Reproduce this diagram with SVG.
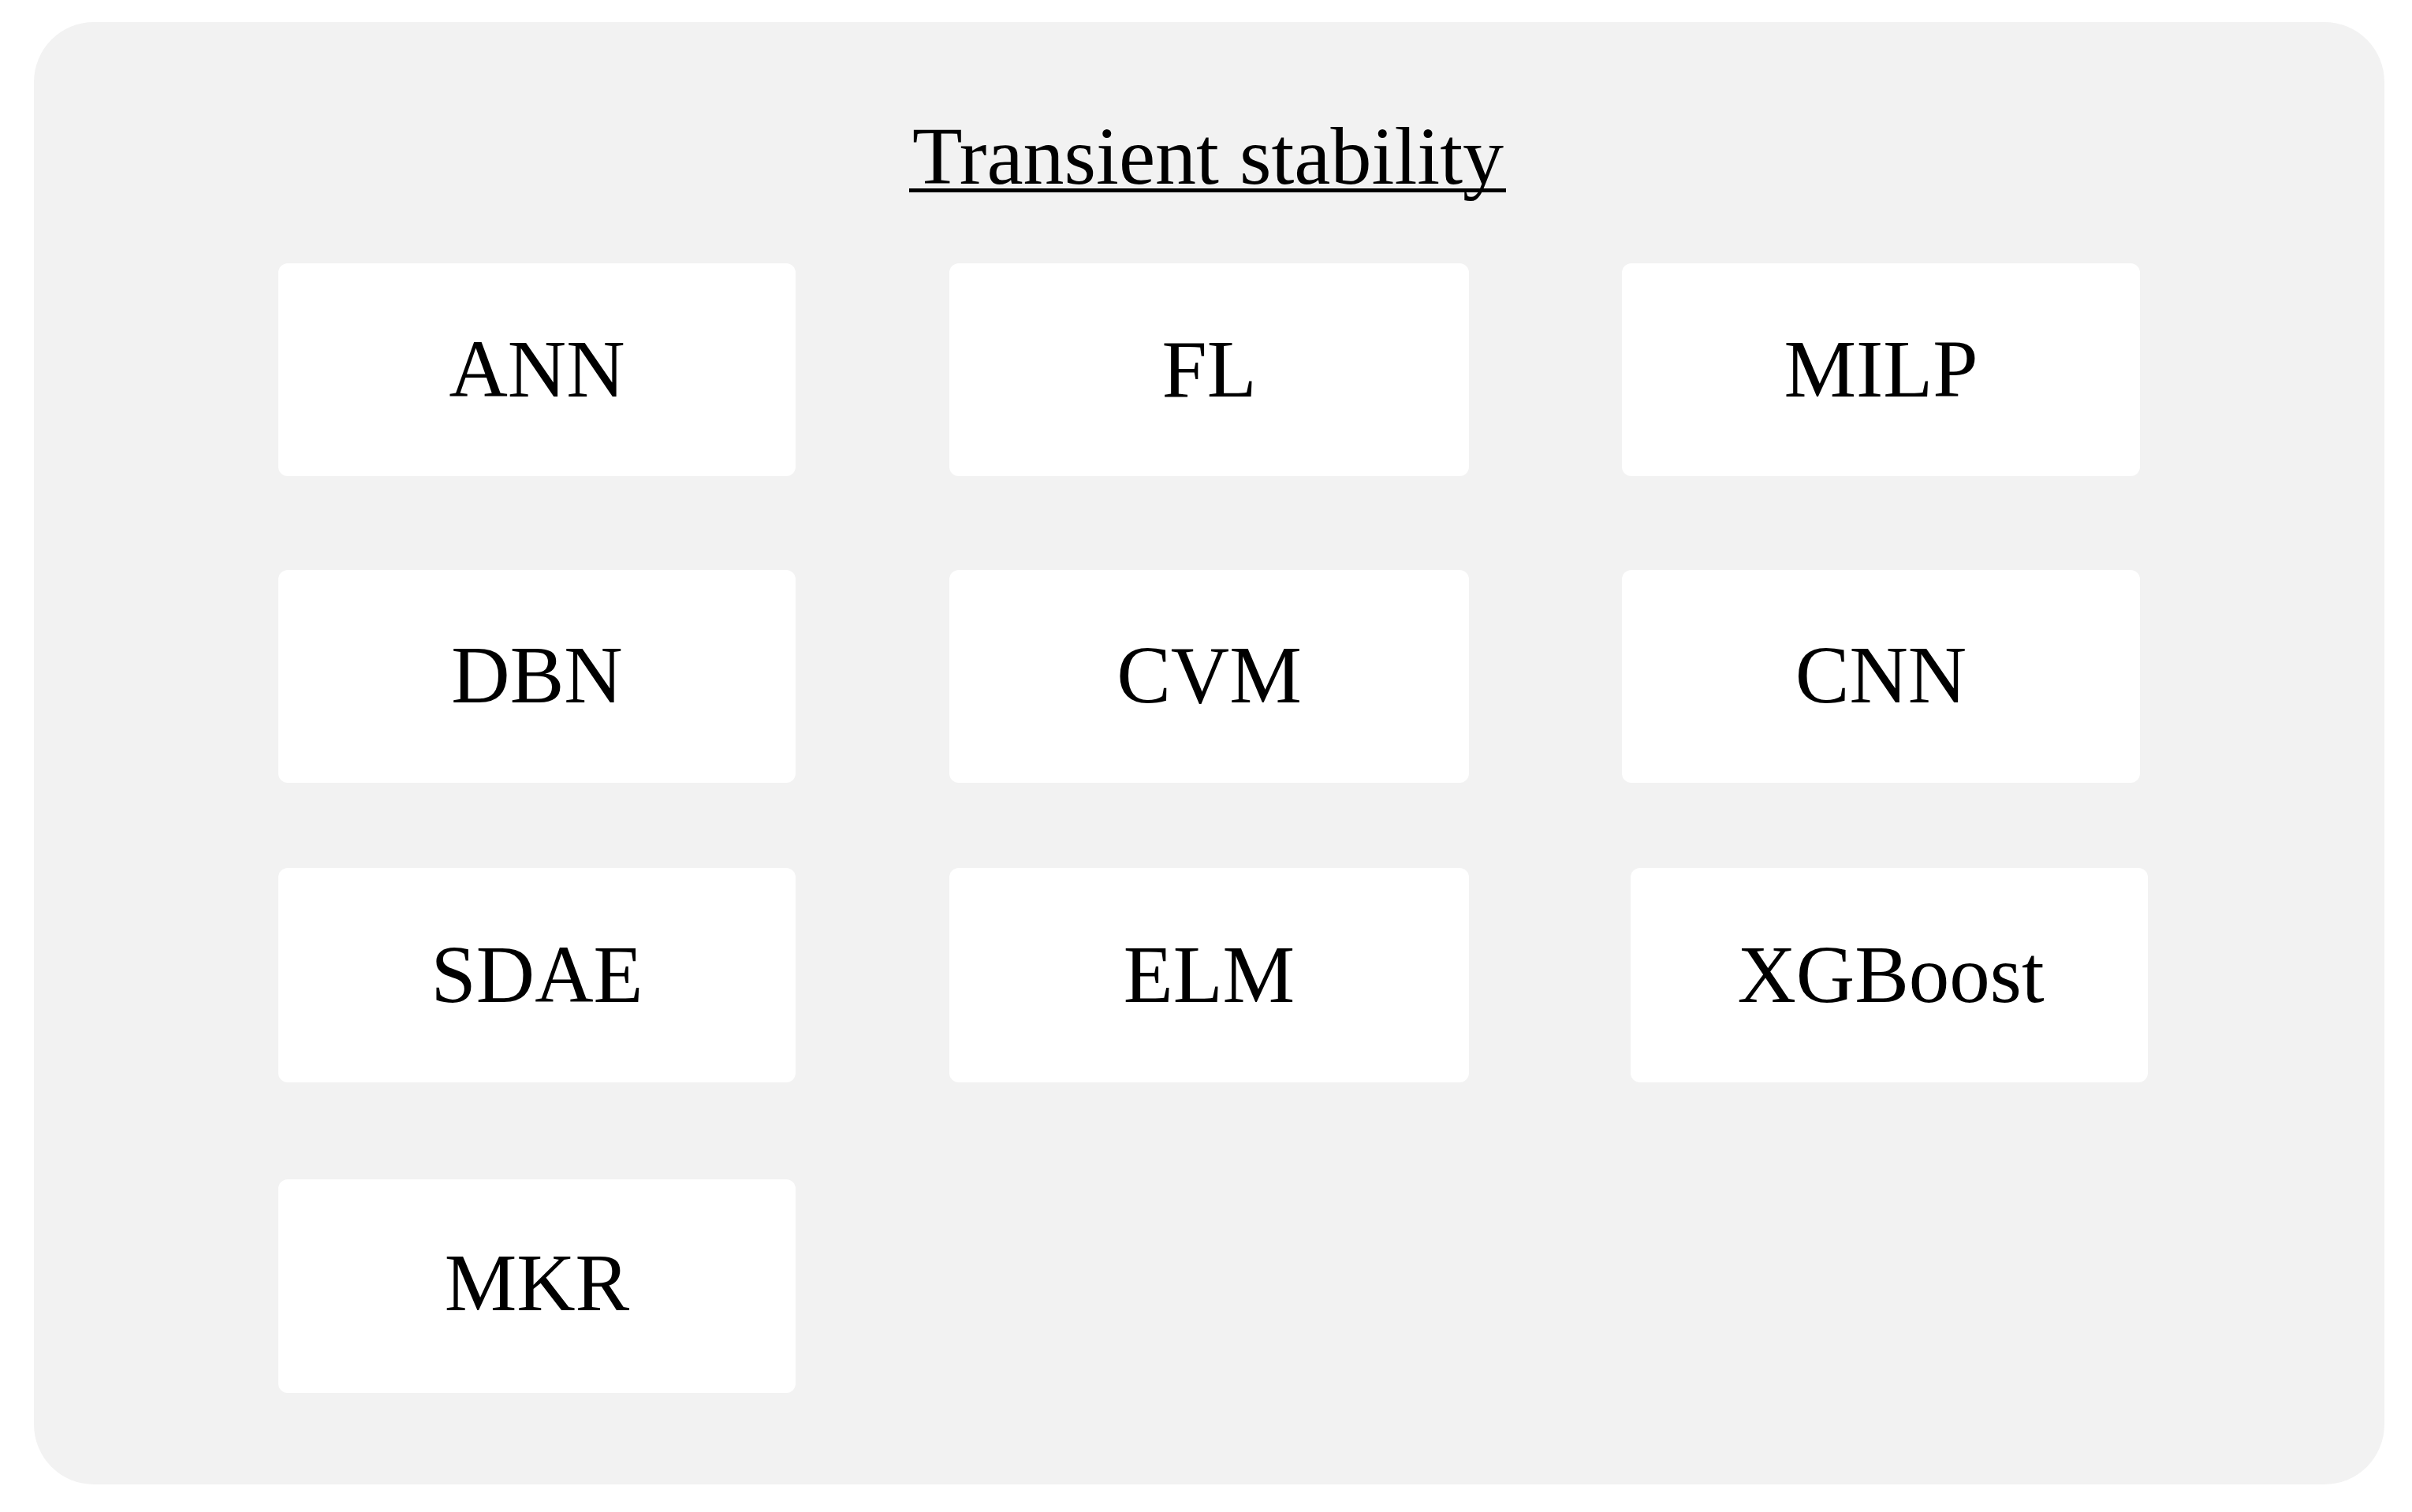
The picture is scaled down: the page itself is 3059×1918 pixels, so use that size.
<svg xmlns="http://www.w3.org/2000/svg" width="3059" height="1918" viewBox="0 0 3059 1918">
<style>
.bg{fill:#F2F2F2}
.box{fill:#FFFFFF}
.lbl{font-family:"Liberation Serif","Times New Roman",serif;font-size:103px;fill:#000000;text-anchor:middle}
.title{font-family:"Liberation Serif","Times New Roman",serif;font-size:104px;fill:#000000;text-anchor:middle}
</style>
<rect width="3059" height="1918" fill="#FFFFFF"/>
<g id="container">
<rect class="bg" x="43" y="28" width="2981" height="1855" rx="76" ry="76"/>
<text class="title" x="1532" y="233">Transient stability</text>
<rect x="1153" y="239" width="757" height="5" fill="#000000"/>
</g>
<g id="node-ANN"><rect class="box" x="353" y="334" width="656" height="270" rx="12"/><text class="lbl" x="681" y="503">ANN</text></g>
<g id="node-FL"><rect class="box" x="1204" y="334" width="659" height="270" rx="12"/><text class="lbl" x="1533.5" y="503">FL</text></g>
<g id="node-MILP"><rect class="box" x="2057" y="334" width="657" height="270" rx="12"/><text class="lbl" x="2385.5" y="503">MILP</text></g>
<g id="node-DBN"><rect class="box" x="353" y="723" width="656" height="270" rx="12"/><text class="lbl" x="681" y="891">DBN</text></g>
<g id="node-CVM"><rect class="box" x="1204" y="723" width="659" height="270" rx="12"/><text class="lbl" x="1533.5" y="891">CVM</text></g>
<g id="node-CNN"><rect class="box" x="2057" y="723" width="657" height="270" rx="12"/><text class="lbl" x="2385.5" y="891">CNN</text></g>
<g id="node-SDAE"><rect class="box" x="353" y="1101" width="656" height="272" rx="12"/><text class="lbl" x="681" y="1271">SDAE</text></g>
<g id="node-ELM"><rect class="box" x="1204" y="1101" width="659" height="272" rx="12"/><text class="lbl" x="1533.5" y="1271">ELM</text></g>
<g id="node-XGBoost"><rect class="box" x="2068" y="1101" width="656" height="272" rx="12"/><text class="lbl" x="2398" y="1271">XGBoost</text></g>
<g id="node-MKR"><rect class="box" x="353" y="1496" width="656" height="271" rx="12"/><text class="lbl" x="681" y="1662">MKR</text></g>
<g id="connectors"></g>
</svg>
